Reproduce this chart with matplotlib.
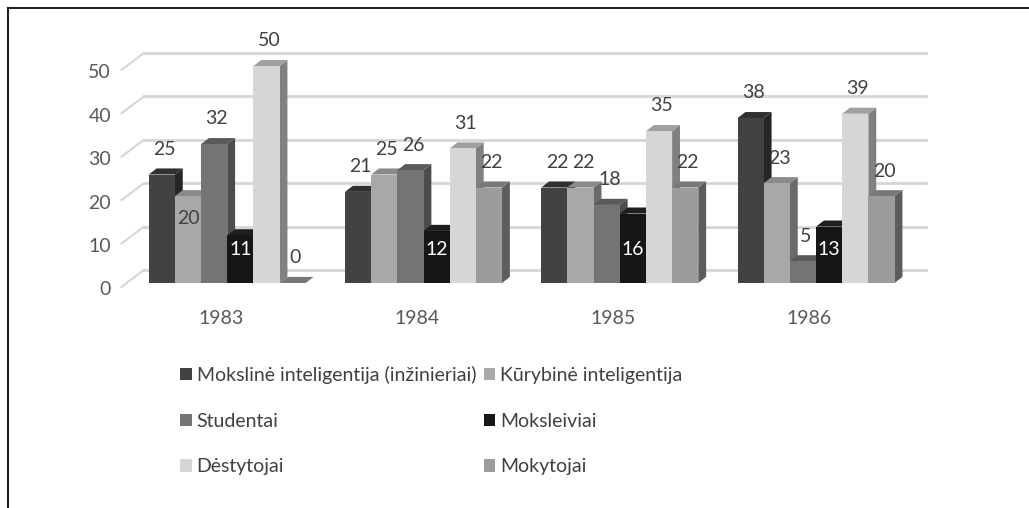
import matplotlib
matplotlib.use('Agg')
import matplotlib.pyplot as plt
from matplotlib.patches import Polygon, Patch
from matplotlib.lines import Line2D

plt.rcParams['font.family'] = ['Lato', 'DejaVu Sans']

# data
years = ['1983', '1984', '1985', '1986']
series = ['Mokslinė inteligentija (inžinieriai)', 'Kūrybinė inteligentija',
          'Studentai', 'Moksleiviai', 'Dėstytojai', 'Mokytojai']
mokslinė = [25, 21, 22, 38]
kurybine = [20, 25, 22, 23]
studentai = [32, 26, 18, 5]
moksleiviai = [11, 12, 16, 13]
destytojai = [50, 31, 35, 39]
mokytojai = [0, 22, 22, 20]
values = [mokslinė, kurybine, studentai, moksleiviai, destytojai, mokytojai]
yticks = [0, 10, 20, 30, 40, 50]

# colours: front, side, top
front = ['#424242', '#a8a8a8', '#747474', '#161616', '#d6d6d6', '#9c9c9c']
side = ['#262626', '#6a6a6a', '#4c4c4c', '#080808', '#808080', '#5c5c5c']
top = ['#303030', '#8a8a8a', '#5a5a5a', '#1e1e1e', '#a0a0a0', '#787878']

W, H = 1029, 508
fig = plt.figure(figsize=(W / 100, H / 100), dpi=100)
ax = fig.add_axes([110 / W, 1 - 300 / H, 850 / W, 260 / H])
ax.set_xlim(-1.48, 31.0)
ax.set_ylim(-3.92, 56)
ax.axis('off')

group_step = 7.5
dx, dy = 0.3, 1.4          # bar depth
wall_dy = 3.0              # back wall offset

# back wall gridlines + slanted ticks
for t in yticks:
    ax.plot([-0.185, 29.7], [t + wall_dy, t + wall_dy], color='#d6d6d6', lw=2, zorder=0)
    ax.plot([-1.04, -0.185], [t - 0.9, t + wall_dy], color='#d6d6d6', lw=1.5, zorder=0)
    ax.text(-1.44, t - 1.6, str(t), ha='right', va='center', fontsize=14, color='#595959')

# bars
for g in range(len(years)):
    for j, vals in enumerate(values):
        v = vals[g]
        x = g * group_step + j
        z = 2 + j
        ax.add_patch(Polygon([(x + 1, 0), (x + 1, v), (x + 1 + dx, v + dy), (x + 1 + dx, dy)],
                             closed=True, facecolor=side[j], edgecolor='none', zorder=z))
        ax.add_patch(Polygon([(x, v), (x + 1, v), (x + 1 + dx, v + dy), (x + dx, v + dy)],
                             closed=True, facecolor=top[j], edgecolor='none', zorder=z))
        ax.bar(x, v, width=1, align='edge', color=front[j], zorder=z)

        # data labels
        if j == 3:
            ax.text(x + 0.5, 7.8, str(v), ha='center', va='center', fontsize=14,
                    color='white', zorder=20)
        elif g == 0 and j == 1:
            ax.text(x + 0.5, v - 5.2, str(v), ha='center', va='center', fontsize=14,
                    color='#404040', zorder=20)
        else:
            ax.text(x + 0.6, v + 5.8, str(v), ha='center', va='center', fontsize=14,
                    color='#404040', zorder=20)

# category labels
for g, yr in enumerate(years):
    ax.text(g * group_step + 2.75, -8.1, yr, ha='center', va='center', fontsize=14,
            color='#595959')

# legend (row-wise order like the original)
handles = [Patch(facecolor=front[j], edgecolor='none') for j in range(6)]
order = [0, 2, 4, 1, 3, 5]
fig.legend([handles[i] for i in order], [series[i] for i in order], ncol=2,
           loc='upper left', bbox_to_anchor=(180 / W, 1 - 366 / H), frameon=False,
           fontsize=14, labelcolor='#404040', handlelength=0.6, handleheight=0.6,
           handletextpad=0.25, columnspacing=0.4, labelspacing=1.47,
           borderpad=0, borderaxespad=0)

# frame from the scanned page
fig.add_artist(Line2D([8 / W, 1], [1 - 8 / H, 1 - 8 / H], color='#222222', lw=1.5))
fig.add_artist(Line2D([8 / W, 8 / W], [0, 1 - 8 / H], color='#222222', lw=1.5))

fig.savefig('out.png', dpi=100)
